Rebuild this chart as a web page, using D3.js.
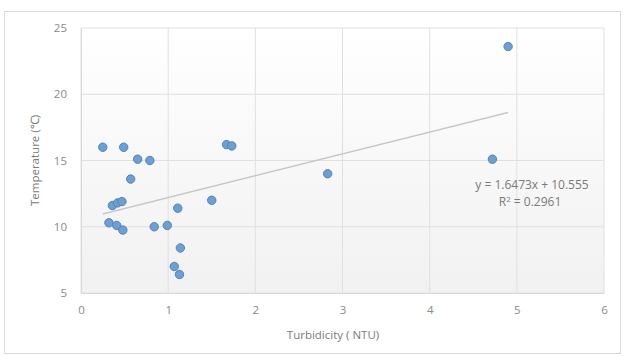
<!DOCTYPE html>
<html>
<head>
<meta charset="utf-8">
<script src="https://cdn.jsdelivr.net/npm/d3@7"></script>
<style>
  html, body { margin: 0; padding: 0; background: #fff; }
  svg { display: block; }
  text { font-family: "Open Sans", "Liberation Sans", sans-serif; }
</style>
</head>
<body>
<svg id="chart" width="624" height="356"></svg>
<script>
// Turbidity (NTU) against water temperature for each sample
const turbidity = [0.25, 0.49, 0.65, 0.79, 0.57, 0.36, 0.42, 0.47, 0.32, 0.41, 0.48,
                   0.84, 0.99, 1.11, 1.50, 1.14, 1.07, 1.13, 1.67, 1.73, 2.83, 4.72, 4.90];
const temperature = [16.0, 16.0, 15.1, 15.0, 13.6, 11.6, 11.8, 11.9, 10.3, 10.1, 9.75,
                     10.0, 10.1, 11.4, 12.0, 8.4, 7.0, 6.4, 16.2, 16.1, 14.0, 15.1, 23.6];
const xTicks = [0, 1, 2, 3, 4, 5, 6];
const yTicks = [5, 10, 15, 20, 25];
const slope = 1.6473, intercept = 10.555, rSquared = 0.2961;

const svg = d3.select("#chart");
const plot = { left: 81, right: 604, top: 28, bottom: 293 };

// chart frame
svg.append("rect").attr("x", 4.5).attr("y", 11.5).attr("width", 616).attr("height", 342)
  .attr("fill", "#fff").attr("stroke", "#d9d9d9").attr("stroke-width", 1);

const defs = svg.append("defs");
const grad = defs.append("linearGradient").attr("id", "plotbg")
  .attr("x1", 0).attr("y1", 0).attr("x2", 0).attr("y2", 1);
grad.append("stop").attr("offset", "0%").attr("stop-color", "#ffffff");
grad.append("stop").attr("offset", "100%").attr("stop-color", "#f1f1f1");

const x = d3.scaleLinear().domain([0, 6]).range([plot.left, plot.right]);
const y = d3.scaleLinear().domain([5, 25]).range([plot.bottom, plot.top]);

svg.append("rect").attr("x", plot.left).attr("y", plot.top)
  .attr("width", plot.right - plot.left).attr("height", plot.bottom - plot.top)
  .attr("fill", "url(#plotbg)");

// gridlines
svg.append("g").selectAll("line").data(xTicks).join("line")
  .attr("x1", d => x(d)).attr("x2", d => x(d))
  .attr("y1", plot.top).attr("y2", plot.bottom)
  .attr("stroke", "#e0e0e0").attr("stroke-width", 1);
svg.append("g").selectAll("line").data(yTicks).join("line")
  .attr("x1", plot.left).attr("x2", plot.right)
  .attr("y1", d => y(d)).attr("y2", d => y(d))
  .attr("stroke", "#e0e0e0").attr("stroke-width", 1);

// axes
const xAxis = svg.append("g").attr("transform", `translate(0,${plot.bottom})`)
  .call(d3.axisBottom(x).tickValues(xTicks).tickSize(0).tickPadding(13).tickFormat(d3.format("d")));
const yAxis = svg.append("g").attr("transform", `translate(${plot.left},0)`)
  .call(d3.axisLeft(y).tickValues(yTicks).tickSize(0).tickPadding(14).tickFormat(d3.format("d")));
[xAxis, yAxis].forEach(g => {
  g.select(".domain").attr("stroke", "#d9d9d9");
  g.selectAll("text").attr("fill", "#8a8a8a").attr("font-size", 11.5);
});

// points
svg.append("g").selectAll("circle")
  .data(turbidity.map((t, i) => [t, temperature[i]]))
  .join("circle")
  .attr("cx", d => x(d[0])).attr("cy", d => y(d[1])).attr("r", 4.2)
  .attr("fill", "#6d9fd3").attr("stroke", "#5283b8").attr("stroke-width", 1);

// linear trendline over the data range
const xMin = d3.min(turbidity), xMax = d3.max(turbidity);
svg.append("line")
  .attr("x1", x(xMin)).attr("y1", y(slope * xMin + intercept))
  .attr("x2", x(xMax)).attr("y2", y(slope * xMax + intercept))
  .attr("stroke", "#c8c8c8").attr("stroke-width", 1.5);

// equation label
const eq = svg.append("g").attr("fill", "#7a7a7a").attr("font-size", 12).attr("text-anchor", "middle");
eq.append("text").attr("x", 532).attr("y", 189)
  .text(`y = ${slope}x + ${intercept}`);
const r2 = eq.append("text").attr("x", 530).attr("y", 206);
r2.append("tspan").text("R");
r2.append("tspan").attr("font-size", 8).attr("dy", -4).text("2");
r2.append("tspan").attr("dy", 4).text(` = ${rSquared}`);

// axis titles
svg.append("text").attr("x", 333).attr("y", 339)
  .attr("text-anchor", "middle").attr("fill", "#7a7a7a").attr("font-size", 11.5)
  .text("Turbidicity ( NTU)");
svg.append("text").attr("transform", `translate(39,${(plot.top + plot.bottom) / 2}) rotate(-90)`)
  .attr("text-anchor", "middle").attr("fill", "#7a7a7a").attr("font-size", 11.5)
  .text("Temperature (℃)");
</script>
</body>
</html>
